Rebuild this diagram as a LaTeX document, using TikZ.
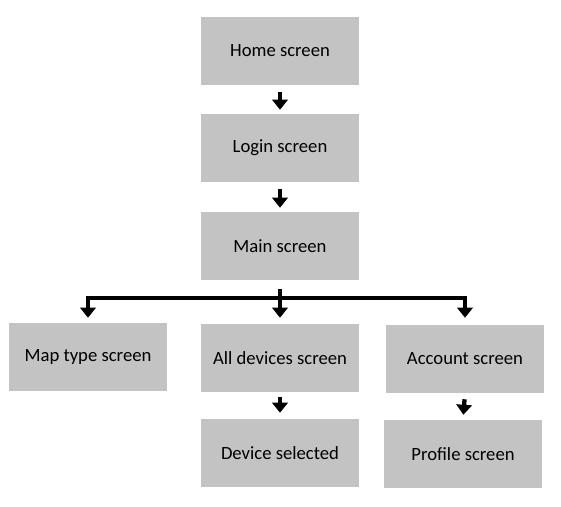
\documentclass[tikz,border=0pt]{standalone}
\usepackage{fontspec}
\setmainfont{Carlito}
\usetikzlibrary{arrows.meta}
\definecolor{boxgray}{RGB}{195,195,195}

\begin{document}
\begin{tikzpicture}[x=0.75pt,y=-0.75pt,
    screen/.style={fill=boxgray,inner sep=0pt,minimum width=118.5pt,
      minimum height=51pt,font=\fontsize{14}{17}\selectfont},
    flow/.style={line width=3.2pt,-{Triangle[width=11.5pt,length=7.5pt]}},
    bus/.style={line width=3.2pt,line cap=rect}]

  \useasboundingbox (0,0) rectangle (561,507);

  \begin{scope}[every node/.style={screen}]
    \node (home)    at (280,51)  {Home screen};
    \node (login)   at (280,148) {Login screen};
    \node (main)    at (280,246) {Main screen};
    \node (maptype) at (88,357)  {Map type screen};
    \node (alldev)  at (280,358) {All devices screen};
    \node (account) at (465,359) {Account screen};
    \node (devsel)  at (280,453) {Device selected};
    \node (profile) at (463,454) {Profile screen};
  \end{scope}

  \coordinate (busY) at (0,298);
  \coordinate (busL) at (maptype.north |- busY);
  \coordinate (busM) at (main.south |- busY);
  \coordinate (busR) at (account.north |- busY);

  \begin{scope}[every path/.style={flow}]
    \draw[shorten <=5.25pt,shorten >=3pt] (home.south) -- (login.north);
    \draw[shorten <=5.25pt,shorten >=3pt] (login.south) -- (main.north);
    \draw[shorten <=3.75pt,shorten >=4.5pt] (alldev.south) -- (devsel.north);
    \draw[shorten <=4.5pt,shorten >=3.75pt] (account.south) -- (profile.north);
  \end{scope}

  \draw[bus,line cap=butt,shorten <=6.75pt] (main.south) -- (busM);
  \draw[bus] (busL) -- (busR);

  \begin{scope}[every path/.style={flow}]
    \draw[shorten >=3.75pt] (busL) -- (maptype.north);
    \draw[shorten >=4.5pt] (busM) -- (alldev.north);
    \draw[shorten >=5.25pt] (busR) -- (account.north);
  \end{scope}

\end{tikzpicture}
\end{document}
